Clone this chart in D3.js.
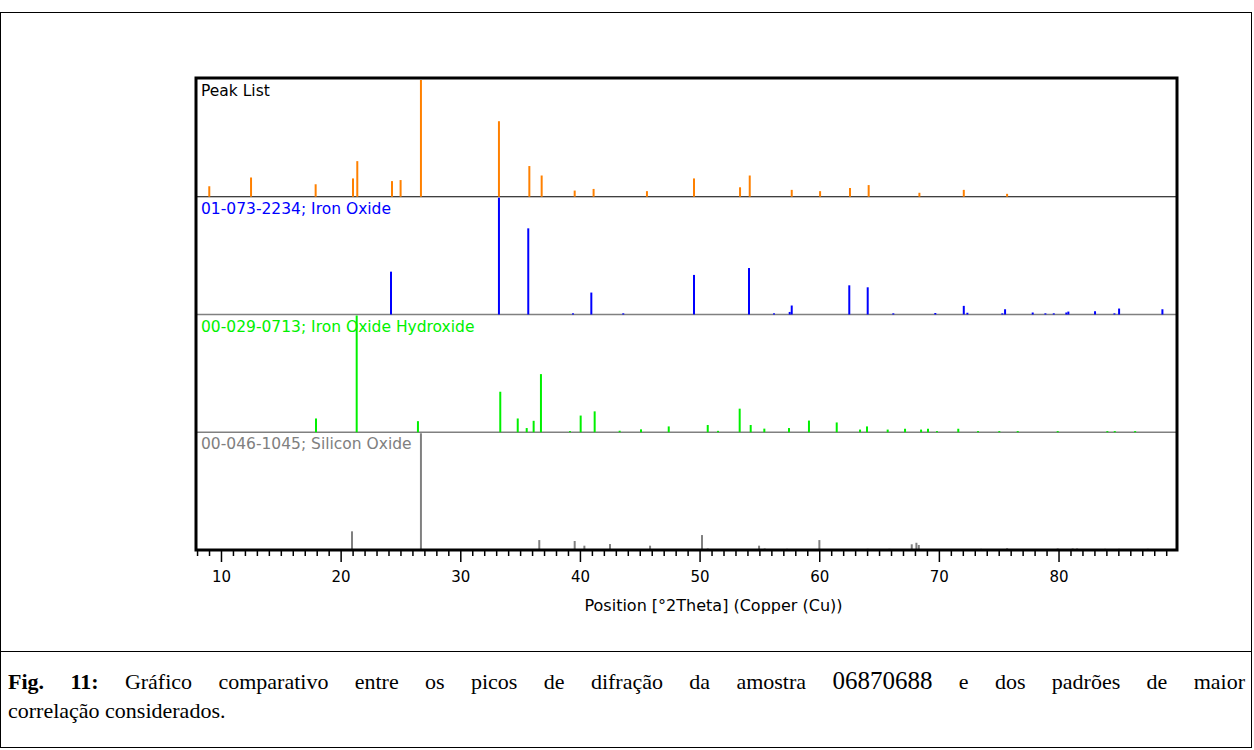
<!DOCTYPE html>
<html>
<head>
<meta charset="utf-8">
<script src="https://cdn.jsdelivr.net/npm/d3@7"></script>
<style>
  body { margin: 0; background: #fff; }
  #frame { position: absolute; left: 0; top: 12px; width: 1252px; height: 736px;
           border: 1px solid #000; box-sizing: border-box; }
  #caption { position: absolute; left: 8px; top: 666px; width: 1237px;
             font-family: "Liberation Serif", "Times New Roman", serif; font-size: 22px;
             line-height: 29px; color: #000; }
  #caption .l1 { text-align: justify; text-align-last: justify; }
  #caption .num { font-size: 25px; }
  #sep { position: absolute; left: 0; top: 651px; width: 1252px; height: 1px; background: #000; }
</style>
</head>
<body>
<div id="frame"></div>
<div id="sep"></div>
<svg id="chart" width="1254" height="750" style="position:absolute;left:0;top:0"></svg>
<div id="caption"><div class="l1"><b>Fig. 11:</b> Gráfico comparativo entre os picos de difração da amostra <span class="num">06870688</span> e dos padrões de maior</div><div>correlação considerados.</div></div>
<script>
// peak positions (°2θ) and relative intensities (%)
var peakListPos = [8.98, 12.47, 17.87, 20.99, 21.35, 24.25, 24.97, 26.67, 33.19, 35.73, 36.76,
    39.52, 41.1, 45.56, 49.49, 53.34, 54.15, 57.66, 60.03, 62.53, 64.09, 68.33, 72.04, 75.66];
var peakListInt = [9, 16.5, 10.7, 15.7, 30.5, 13.4, 14.3, 100, 64.7, 26.3, 18.2,
    5.3, 6.7, 4.8, 15.7, 8.1, 18.2, 5.9, 4.8, 7.6, 10, 3.4, 5.9, 2.5];

var ironOxidePos = [24.17, 33.19, 35.64, 39.38, 40.91, 43.58, 49.49, 54.09, 56.18, 57.49, 57.66,
    62.47, 64.01, 66.15, 69.66, 72.04, 72.34, 75.26, 75.49, 77.8, 78.86, 79.56, 80.61, 80.78,
    83.01, 84.63, 85.02, 88.64];
var ironOxideInt = [36.7, 100, 73.8, 1, 18.8, 1, 33.9, 39.8, 1, 2.2, 7.7,
    25, 23.3, 1, 1.3, 7.4, 1.5, 1, 4.5, 1.7, 1, 1, 1.7, 2.5,
    2.8, 1, 5.1, 4.5];

var goethitePos = [17.9, 21.3, 26.42, 33.3, 34.76, 35.51, 36.09, 36.7, 39.13, 40.02, 41.19,
    43.28, 45.06, 47.38, 50.64, 51.5, 53.31, 54.23, 55.37, 57.43, 59.1, 61.42,
    63.37, 63.95, 65.68, 67.13, 68.47, 69.05, 69.8, 71.58, 73.23, 75.01, 76.55, 79.89,
    84.04, 84.66, 86.36];
var goethiteInt = [11.8, 100, 9.5, 34.7, 11.8, 3.6, 9.8, 49.8, 1, 14.3, 17.9,
    1.3, 2.5, 5, 6.2, 1.2, 20.2, 6.2, 3.1, 3.6, 10, 8.4,
    2.3, 5, 2.3, 3, 2.3, 3, 1, 3, 1, 1, 1, 1,
    1, 1, 1];

var quartzPos = [20.91, 26.67, 36.56, 39.52, 40.33, 42.47, 45.82, 50.16, 50.64, 54.93, 55.4,
    57.27, 59.97, 64.01, 65.82, 67.69, 68.08, 68.28, 73.49, 75.66, 79.89, 81.14, 81.51,
    83.85, 85.02, 87.42];
var quartzInt = [16, 100, 8.5, 7.7, 3.7, 5.1, 3.7, 12.8, 1.3, 3.7, 1.3,
    1, 8.5, 1, 1, 4.9, 6.2, 4.3, 1, 1.5, 1.3, 1.3, 1.3,
    1, 1, 1];

var patternNames = ['Peak List', '01-073-2234; Iron Oxide', '00-029-0713; Iron Oxide Hydroxide',
    '00-046-1045; Silicon Oxide'];
var patternColors = ['#ff8000', '#0000ff', '#00f000', '#808080'];
var xTicks = [10, 20, 30, 40, 50, 60, 70, 80];
var xTitle = 'Position [°2Theta] (Copper (Cu))';

var patterns = [
    {name: patternNames[0], color: patternColors[0], pos: peakListPos, inten: peakListInt},
    {name: patternNames[1], color: patternColors[1], pos: ironOxidePos, inten: ironOxideInt},
    {name: patternNames[2], color: patternColors[2], pos: goethitePos, inten: goethiteInt},
    {name: patternNames[3], color: patternColors[3], pos: quartzPos, inten: quartzInt}
];

var margin = {left: 196, top: 79, right: 1177, bottom: 550};
var svg = d3.select('#chart');
var font = 'DejaVu Sans, Verdana, sans-serif';

var x = d3.scaleLinear()
    .domain([7.87, 89.86])
    .range([margin.left, margin.right]);

var band = d3.scaleBand()
    .domain(d3.range(patterns.length))
    .range([margin.top, margin.bottom]);

var panels = svg.selectAll('.panel')
    .data(patterns)
  .enter()
  .append('g')
    .attr('class', 'panel');

panels.each(function (p, i) {
    var g = d3.select(this);
    var y0 = band(i), h = band.bandwidth();
    var y = d3.scaleLinear().domain([0, 100]).range([y0 + h, y0 + 1]);

    // separator under each panel
    if (i < patterns.length - 1) {
        g.append('line')
            .attr('x1', margin.left).attr('x2', margin.right)
            .attr('y1', y0 + h).attr('y2', y0 + h)
            .attr('stroke', i === 0 ? '#000' : '#808080')
            .attr('stroke-width', i === 0 ? 1 : 1.5);
    }

    g.selectAll('.stick')
        .data(d3.zip(p.pos, p.inten))
      .enter()
      .append('line')
        .attr('class', 'stick')
        .attr('x1', function (d) { return x(d[0]); })
        .attr('x2', function (d) { return x(d[0]); })
        .attr('y1', y(0))
        .attr('y2', function (d) { return y(d[1]); })
        .attr('stroke', p.color)
        .attr('stroke-width', 2);

    g.append('text')
        .attr('x', margin.left + 5)
        .attr('y', y0 + 17)
        .attr('fill', i === 0 ? '#000' : p.color)
        .style('font-family', font)
        .style('font-size', '15.5px')
        .text(p.name);
});

// outer plot frame
svg.append('rect')
    .attr('x', margin.left)
    .attr('y', margin.top - 1)
    .attr('width', margin.right - margin.left)
    .attr('height', margin.bottom - margin.top + 1)
    .attr('fill', 'none')
    .attr('stroke', '#000')
    .attr('stroke-width', 3);

// x axis
var axis = svg.append('g')
    .attr('transform', 'translate(0,' + (margin.bottom + 1) + ')');

axis.selectAll('.minor')
    .data(d3.range(8, 90))
  .enter()
  .append('line')
    .attr('class', 'minor')
    .attr('x1', function (d) { return x(d); })
    .attr('x2', function (d) { return x(d); })
    .attr('y1', 0)
    .attr('y2', function (d) { return d % 10 === 0 ? 11 : 5; })
    .attr('stroke', '#000')
    .attr('stroke-width', 1.5);

axis.selectAll('.tlabel')
    .data(xTicks)
  .enter()
  .append('text')
    .attr('x', function (d) { return x(d); })
    .attr('y', 31)
    .attr('text-anchor', 'middle')
    .style('font-family', font)
    .style('font-size', '15px')
    .text(function (d) { return d; });

svg.append('text')
    .attr('x', (margin.left + margin.right) / 2 + 27)
    .attr('y', 611)
    .attr('text-anchor', 'middle')
    .style('font-family', font)
    .style('font-size', '16px')
    .text(xTitle);
</script>
</body>
</html>
